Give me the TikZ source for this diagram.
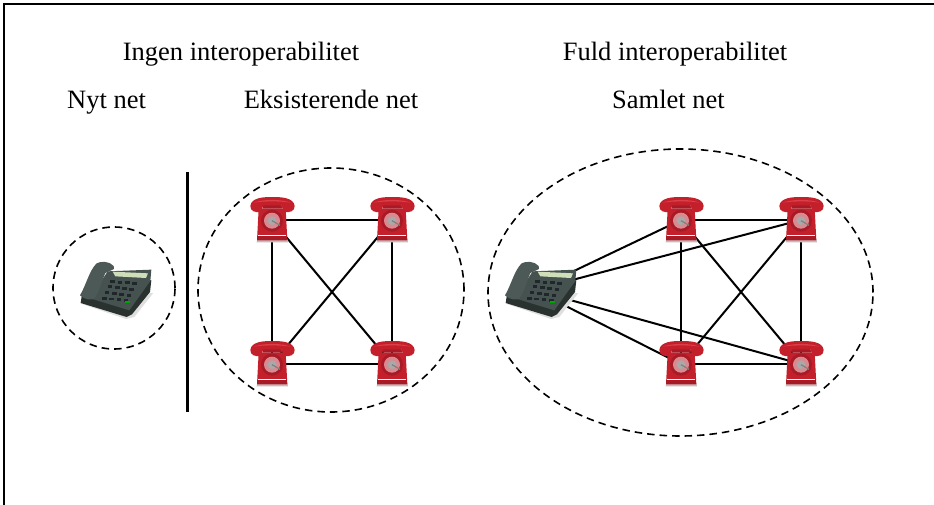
\documentclass[tikz,border=0pt]{standalone}
\usepackage{fontspec}
\setmainfont{Liberation Serif}
\usetikzlibrary{shapes.geometric}
\definecolor{phred}{HTML}{C4202B}
\definecolor{phreddark}{HTML}{A81A25}
\definecolor{phredlight}{HTML}{DC3F46}
\definecolor{phpink}{HTML}{D98A90}
\definecolor{phgrey}{HTML}{A9A9A9}
\definecolor{dkbase}{HTML}{2A3230}
\definecolor{dkbody}{HTML}{46524F}
\definecolor{dkhand}{HTML}{4C5956}
\definecolor{dkscreen}{HTML}{CFDDB8}
\definecolor{dkkey}{HTML}{20272A}
\tikzset{
  site/.style={draw=none,inner sep=0pt,minimum width=44pt,minimum height=44pt},
  zone/.style={ellipse,draw=black,line width=1.6pt,dash pattern=on 7.5pt off 5pt,inner sep=0pt},
  link/.style={draw=black,line width=2pt},
  caption/.style={anchor=base,inner sep=0pt,font=\fontsize{26.5}{30}\selectfont},
  redphone/.pic={
    \begin{scope}[x=0.3333pt,y=-0.3333pt,shift={(-72,-72)}]
      \fill[gray!50] (28,128) -- (118,128) -- (120,139) -- (26,139) -- cycle;
      \fill[phred] (32,38) -- (113,38) -- (118,133) -- (27,133) -- cycle;
      \fill[phreddark] (27,120) -- (118,120) -- (118,133) -- (27,133) -- cycle;
      \fill[phreddark] (46,26) -- (100,26) -- (103,38) -- (43,38) -- cycle;
      \fill[phred] (7,30) .. controls (9,4) and (50,3) .. (72,3) .. controls (98,3) and (137,4) .. (140,30)
        .. controls (140,46) and (125,50) .. (110,48) .. controls (103,42) and (104,34) .. (100,28)
        -- (46,28) .. controls (42,34) and (43,42) .. (36,48) .. controls (22,50) and (7,46) .. (7,30) -- cycle;
      \fill[phredlight] (18,20) .. controls (45,9) and (100,9) .. (128,20) .. controls (100,15) and (45,15) .. (18,20) -- cycle;
      \fill[phreddark] (72,74) circle[radius=33];
      \fill[phpink] (72,74) circle[radius=24];
      \fill[phgrey] (72,74) circle[radius=13];
      \draw[gray,line width=1.2pt] (72,74) -- (96,88);
      \draw[white,line width=1pt] (31,119) -- (114,119);
    \end{scope}
  },
  deskphone/.pic={
    \begin{scope}[x=0.3333pt,y=-0.3333pt,shift={(-99,-99)}]
      \fill[gray!25] (15,140) -- (150,186) -- (175,180) -- (232,108) -- (200,110) -- cycle;
      \fill[dkbase] (17,118) -- (14,138) -- (152,180) -- (168,172) -- (222,105) -- (226,70) -- (100,60) -- cycle;
      \fill[dkbody] (95,43) -- (226,38) -- (223,72) -- (160,160) -- (42,124) -- cycle;
      \fill[dkscreen] (110,44) -- (216,49) -- (210,63) -- (118,58) -- cycle;
      \fill[dkhand] (62,19) .. controls (75,12) and (100,12) .. (113,27) -- (114,36) -- (88,48)
        .. controls (78,70) and (72,100) .. (55,125) .. controls (45,130) and (25,128) .. (12,115)
        .. controls (30,85) and (40,40) .. (62,19) -- cycle;
      \foreach \i in {0,1,2,3}{
        \foreach \j in {0,1,2,3}{
          \fill[dkkey,shift={(110+\i*22-\j*8.5,72+\i*2.5+\j*17)}] (-7,-4) rectangle (7,5);
        }
      }
      \fill[green!65!black] (148,132) rectangle (162,138);
    \end{scope}
  }
}
\begin{document}
\begin{tikzpicture}[x=1pt,y=-1pt]
\useasboundingbox (0,0) rectangle (934,505);
\fill[white] (0,0) rectangle (934,505);
% frame (open on the right and bottom)
\coordinate (fa) at (4,505);
\coordinate (fb) at (4,4);
\coordinate (fc) at (934,4);
\draw[line width=2.4pt,line join=miter] (fa) -- (fb) -- (fc);
% captions
\node[caption] (t1) at (241,61) {Ingen interoperabilitet};
\node[caption] (t2) at (675,61) {Fuld interoperabilitet};
\node[caption] (t3) at (106.5,109) {Nyt net};
\node[caption] (t4) at (331,109) {Eksisterende net};
\node[caption] (t5) at (668.5,109) {Samlet net};
% zones
\node[zone,minimum width=122pt,minimum height=122pt] (z1) at (114,288) {};
\node[zone,minimum width=266pt,minimum height=244pt] (z2) at (331,290) {};
\node[zone,minimum width=385pt,minimum height=287pt] (z3) at (680.5,292.5) {};
% divider
\coordinate (da) at (187.5,172);
\coordinate (db) at (187.5,412);
\draw[line width=2.4pt] (da) -- (db);
% sites
\node[site] (n0) at (109,290) {};
\node[site] (a1) at (272,220) {};
\node[site] (a2) at (392,220) {};
\node[site] (a3) at (272,364) {};
\node[site] (a4) at (392,364) {};
\node[site] (n1) at (534,290) {};
\node[site] (b1) at (681,220) {};
\node[site] (b2) at (801,220) {};
\node[site] (b3) at (681,364) {};
\node[site] (b4) at (801,364) {};
% links
\foreach \p/\q in {a1/a2,a1/a3,a1/a4,a2/a3,a2/a4,a3/a4,b1/b2,b1/b3,b1/b4,b2/b3,b2/b4,b3/b4,n1/b1,n1/b2,n1/b3,n1/b4}
  \draw[link] (\p.center) -- (\q.center);
% phones
\foreach \p in {a1,a2,a3,a4,b1,b2,b3,b4}
  \pic at (\p) {redphone};
\foreach \p in {n0,n1}
  \pic at (\p) {deskphone};
\end{tikzpicture}
\end{document}
